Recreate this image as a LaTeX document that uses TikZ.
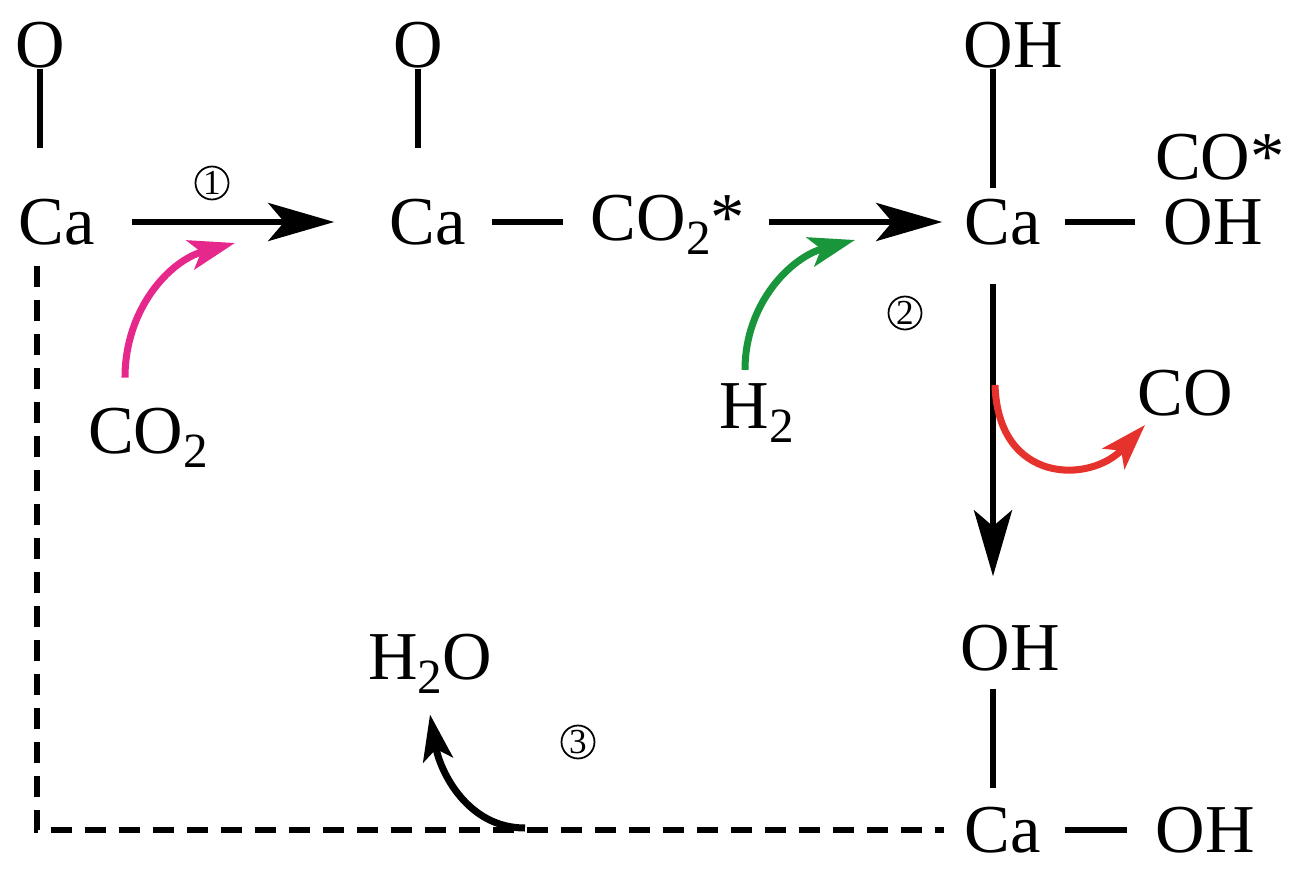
\documentclass[tikz,border=0pt]{standalone}
\usepackage{fontspec}
\setmainfont{Liberation Serif}
\usepackage{xcolor}
\usetikzlibrary{arrows.meta}
\definecolor{chempink}{RGB}{230,40,140}
\definecolor{chemgreen}{RGB}{25,150,60}
\definecolor{chemred}{RGB}{230,50,45}
\newcommand{\chemsub}[1]{\raisebox{-0.45ex}{\fontsize{14}{14}\selectfont #1}}

\begin{document}
\begin{tikzpicture}[
    atom/.style={inner sep=0pt, font=\fontsize{19.5}{22}\selectfont},
    stepno/.style={draw, circle, line width=0.5pt, inner sep=0pt, minimum size=0.33cm, font=\fontsize{10}{11}\selectfont},
    bond/.style={line width=1.5pt},
    react/.style={line width=1.7pt, -{Stealth[length=6.6mm, width=3.8mm, inset=1.6mm]}},
    feed/.style={line width=2pt, -{Stealth[length=4.6mm, width=3mm, inset=1.1mm]}},
    dashline/.style={line width=1.6pt, dash pattern=on 0.21cm off 0.13cm}]
        \useasboundingbox (0,0) rectangle (12.99,8.74);

        % first site
        \node[atom] (O1) at (0.40,8.29) {O};
        \node[atom] (Ca1) at (0.57,6.52) {Ca};
        \node[atom] (CO2) at (1.48,4.36) {CO\chemsub{2}};
        \node[stepno] (n1) at (2.12,6.91) {1};

        % second site
        \node[atom] (O2) at (4.18,8.29) {O};
        \node[atom] (Ca2) at (4.28,6.52) {Ca};
        \node[atom] (CO2s) at (6.68,6.49) {CO\chemsub{2}*};
        \node[atom] (H2) at (7.57,4.61) {H\chemsub{2}};
        \node[stepno] (n2) at (9.05,5.61) {2};

        % third site
        \node[atom] (OH1) at (10.13,8.29) {OH};
        \node[atom] (Ca3) at (10.03,6.52) {Ca};
        \node[atom] (OHr) at (12.13,6.52) {OH};
        \node[atom] (COs) at (12.20,7.17) {CO*};
        \node[atom] (CO) at (11.85,4.81) {CO};

        % fourth site
        \node[atom] (OH2) at (10.10,2.26) {OH};
        \node[atom] (Ca4) at (10.03,0.44) {Ca};
        \node[atom] (OH3) at (12.05,0.44) {OH};
        \node[atom] (H2O) at (4.30,2.10) {H\chemsub{2}O};
        \node[stepno] (n3) at (5.78,1.32) {3};

        \coordinate (p1) at (2.35,6.31);
        \coordinate (p2) at (8.55,6.34);
        \coordinate (p3) at (11.45,4.49);
        \coordinate (p4) at (5.25,0.46);
        \coordinate (corner) at (0.37,0.44);

        % bonds
        \draw[bond, shorten >=0.5cm] (O1.south) -- (O1.south |- Ca1.north);
        \draw[bond, shorten >=0.5cm] (O2.south) -- (O2.south |- Ca2.north);
        \draw[bond, shorten >=0.1cm] ([xshift=-0.2cm]OH1.south) -- ([xshift=-0.2cm]OH1.south |- Ca3.north);
        \draw[bond, shorten <=0.25cm, shorten >=0.27cm] (Ca2.east) -- (CO2s.west |- Ca2.east);
        \draw[bond, shorten <=0.23cm, shorten >=0.28cm] (Ca3.east) -- (OHr.west);
        \draw[bond, shorten <=0.17cm, shorten >=0.18cm] ([xshift=-0.17cm]OH2.south) -- ([xshift=-0.17cm]OH2.south |- Ca4.north);
        \draw[bond, shorten <=0.23cm, shorten >=0.28cm] (Ca4.east) -- (OH3.west);

        % reaction steps
        \draw[react, shorten <=0.36cm, shorten >=0.55cm] (Ca1.east) -- (Ca2.west);
        \draw[react, shorten <=0.23cm, shorten >=0.22cm] (CO2s.east |- Ca3) -- (Ca3.west);
        \draw[react, shorten <=0.38cm, shorten >=0.48cm] ([xshift=-0.1cm]Ca3.south) -- ([xshift=-0.1cm]Ca3.south |- OH2.north);
        \draw[dashline, shorten <=0.2cm, shorten >=0.2cm] (Ca1.south -| corner) -- (corner) -- (Ca4.west);

        % species in and out
        \draw[feed, chempink] ([xshift=-0.23cm, yshift=0.3cm]CO2.north) to[out=90, in=195] (p1);
        \draw[feed, chemgreen] ([xshift=-0.12cm, yshift=0.13cm]H2.north) to[out=90, in=195] (p2);
        \draw[feed, chemred] (9.95,4.89) .. controls (9.98,3.9) and (10.9,3.9) .. (p3);
        \draw[feed, black] (p4) to[out=180, in=-80] ([yshift=-0.2cm]H2O.south);
    \end{tikzpicture}
\end{document}
